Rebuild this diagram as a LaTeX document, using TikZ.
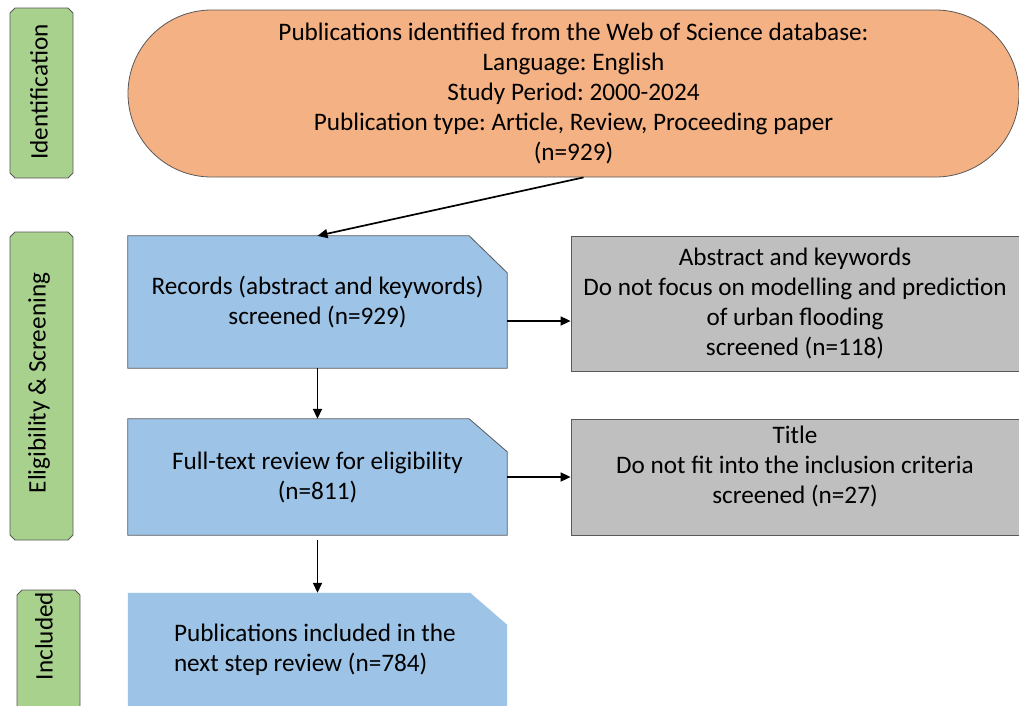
\documentclass[tikz,border=0pt]{standalone}
\usepackage{fontspec}
\setmainfont{Carlito}
\frenchspacing
\usetikzlibrary{arrows.meta,backgrounds,shapes.misc}
\definecolor{orfill}{HTML}{F4B183}
\definecolor{blfill}{HTML}{9DC3E6}
\definecolor{grfill}{HTML}{BFBFBF}
\definecolor{gnfill}{HTML}{A9D18E}
\definecolor{edge}{HTML}{595959}
\newcommand\chamfbox[5]{(#1+#5,#2) -- (#3-#5,#2) -- (#3,#2+#5) -- (#3,#4-#5) -- (#3-#5,#4) -- (#1+#5,#4) -- (#1,#4-#5) -- (#1,#2+#5) -- cycle}
\tikzset{
  basefont/.style={font=\fontsize{25.2}{30}\selectfont},
  arr/.style={-{Triangle[length=10pt,width=9pt]}, line width=1.7pt, black},
  greenbox/.style={fill=gnfill, draw=edge, line width=0.8pt},
  labeltext/.style={rotate=90, inner sep=0pt, basefont},
  bluetext/.style={rectangle, inner sep=0pt, align=center, basefont},
  bluefill/.style={fill=blfill, draw=edge, line width=0.8pt},
  greybox/.style={rectangle, fill=grfill, draw=edge, line width=0.8pt, inner sep=0pt, align=center, basefont},
  orangebox/.style={rounded rectangle, fill=orfill, draw=edge, line width=0.8pt, inner sep=0pt, align=center, basefont}
}
\begin{document}
\begin{tikzpicture}[x=1pt,y=-1pt]
\useasboundingbox (0,0) rectangle (1019,705);

% stage labels
\filldraw[greenbox] \chamfbox{10}{8}{73}{178}{5};
\filldraw[greenbox] \chamfbox{10}{232}{73}{540}{5};
\filldraw[greenbox] \chamfbox{17}{590}{80}{730}{5};
\node[labeltext] (lid) at (39,92) {Identification};
\node[labeltext] (lel) at (39,383) {Eligibility \& Screening};
\node[labeltext] (lin) at (44,636) {Included};

% identification
\node[orangebox, minimum width=891pt, minimum height=167pt] (id) at (573.5,93.5)
  {Publications identified from the Web of Science database:\\
   Language: English\\
   Study Period: 2000-2024\\
   Publication type: Article, Review, Proceeding paper\\
   (n=929)};

% blue boxes (text nodes; shapes on background)
\node[bluetext, minimum width=379pt, minimum height=132pt] (b1) at (317.5,302)
  {Records (abstract and keywords)\\screened (n=929)};
\node[bluetext, minimum width=379pt, minimum height=116pt] (b2) at (317.5,477)
  {Full-text review for eligibility\\(n=811)};
\node[bluetext, minimum width=379pt, minimum height=114pt, text width=287pt, align=left] (b3) at (317.5,650)
  {\spaceskip=0pt\relax\mbox{Publications included in the}\\\mbox{next step review (n=784)}};

\begin{scope}[on background layer]
  \path[bluefill] (b1.north west) -- ([xshift=-38pt]b1.north east) -- ([yshift=-37pt]b1.north east)
    -- (b1.south east) -- (b1.south west) -- cycle;
  \path[bluefill] (b2.north west) -- ([xshift=-38pt]b2.north east) -- ([yshift=-33pt]b2.north east)
    -- (b2.south east) -- (b2.south west) -- cycle;
  \fill[blfill] (b3.north west) -- ([xshift=-37pt]b3.north east) -- ([yshift=-32pt]b3.north east)
    -- ([yshift=-20pt]b3.south east) -- ([yshift=-20pt]b3.south west) -- cycle;
\end{scope}

% grey boxes
\node[greybox, minimum width=448pt, minimum height=135pt] (g1) at (795,303.5)
  {Abstract and keywords\\Do not focus on modelling and prediction\\of urban flooding\\screened (n=118)};
\node[greybox, minimum width=448pt, minimum height=116pt] (g2) at (795,477)
  {Title\\Do not fit into the inclusion criteria\\screened (n=27)\\[-6pt]};

% connectors
\draw[arr] ([xshift=10pt]id.south) -- (b1.north);
\draw[arr] ([yshift=-19pt]b1.east) -- ([yshift=-19pt]b1.east -| g1.west);
\draw[arr] (b2.east) -- (g2.west);
\draw[arr] (b1.south) -- (b2.north);
\draw[arr] ([yshift=-5pt]b2.south) -- (b3.north);
\end{tikzpicture}
\end{document}
